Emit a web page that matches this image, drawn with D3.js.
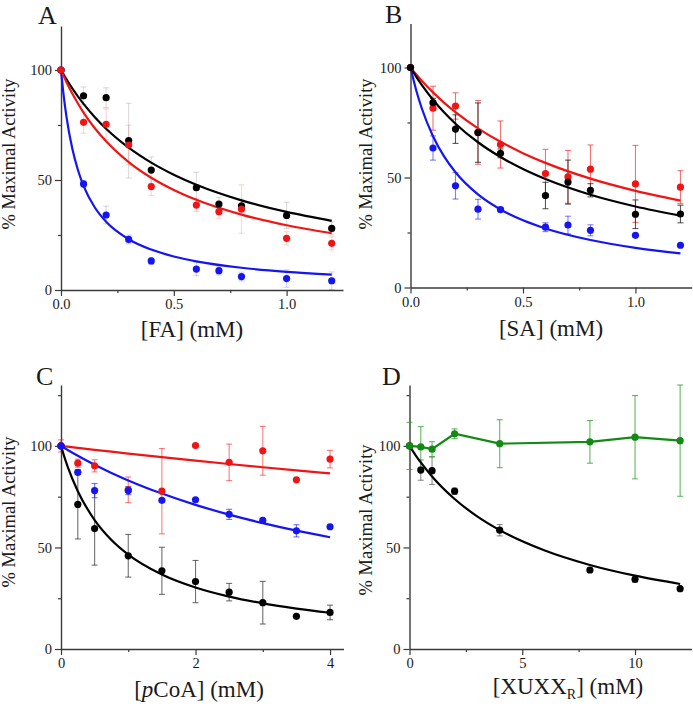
<!DOCTYPE html>
<html><head><meta charset="utf-8">
<script src="https://cdn.jsdelivr.net/npm/d3@7"></script>
<style>
body{margin:0;background:#fff}
svg{display:block}
svg text{font-family:"Liberation Serif","LiberationSerif","Tinos","Times New Roman","Nimbus Roman","DejaVu Serif",serif !important;fill:#1a1a1a}
</style>
</head><body>
<svg id="chart" width="693" height="708"></svg>
<script>
// ---------- Panel A : [FA] ----------
const aX        = [0, 0.1, 0.2, 0.3, 0.4, 0.6, 0.7, 0.8, 1.0, 1.2];
const aBlack    = [100, 88.3, 87.4, 67.9, 54.5, 46.5, 39.1, 38.3, 33.9, 28.0];
const aBlackErr = [0, 4, 4.5, 17, 6, 7, 3, 3, 6, 3];
const aRed      = [100, 76.2, 75.3, 65.9, 47.0, 38.6, 35.6, 36.8, 23.5, 21.2];
const aRedErr   = [0, 5, 7, 9, 4, 3, 3, 11, 3, 3];
const aBlue     = [100, 48.2, 34.1, 23.0, 13.2, 9.5, 8.8, 6.1, 5.2, 4.2];
const aBlueErr  = [0, 1.5, 4, 2, 1.5, 3, 2, 2, 4, 4];
const aFitX     = [0, 0.0125, 0.025, 0.05, 0.075, 0.1, 0.15, 0.2, 0.3, 0.4, 0.5, 0.6, 0.8, 1.0, 1.2];
const aFitBlack = [100, 97.8, 95.65, 91.67, 88.0, 84.62, 78.57, 73.33, 64.71, 57.89, 52.38, 47.83, 40.74, 35.48, 31.43];
const aFitRed   = [100, 97.1, 94.34, 89.29, 84.8, 80.66, 73.54, 67.59, 58.16, 51.04, 45.48, 41.0, 34.26, 29.43, 25.79];
const aFitBlue  = [100, 87.8, 78.26, 64.29, 54.55, 47.37, 37.5, 31.03, 23.08, 18.37, 15.25, 13.04, 10.11, 8.26, 6.98];

// ---------- Panel B : [SA] ----------
const bX        = [0, 0.1, 0.2, 0.3, 0.4, 0.6, 0.7, 0.8, 1.0, 1.2];
const bRed      = [100, 81.5, 82.5, 70.5, 65.0, 51.8, 50.3, 53.8, 47.1, 45.6];
const bRedErr   = [0, 10, 6, 14.5, 10.7, 11, 12, 11, 17.5, 7.5];
const bBlack    = [100, 84.0, 72.0, 70.4, 61.0, 41.8, 47.9, 44.2, 33.3, 33.4];
const bBlackErr = [0, 2, 6.5, 13.5, 2, 6, 10, 3, 6.5, 4];
const bBlue     = [100, 63.4, 46.2, 35.6, 35.4, 27.4, 28.4, 26.0, 23.7, 19.2];
const bBlueErr  = [0, 5.5, 6, 4.5, 1, 2, 4, 2.5, 0, 0];
const bFitX     = [0, 0.025, 0.05, 0.1, 0.15, 0.2, 0.3, 0.4, 0.5, 0.6, 0.8, 1.0, 1.2];
const bFitRed   = [100, 96.91, 94.0, 88.68, 83.94, 79.67, 72.32, 66.22, 61.06, 56.65, 49.49, 43.95, 39.52];
const bFitBlack = [100, 95.89, 92.1, 85.36, 79.54, 74.46, 66.02, 59.31, 53.83, 49.28, 42.15, 36.83, 32.7];
const bFitBlue  = [100, 89.8, 81.48, 68.75, 59.46, 52.38, 42.31, 35.48, 30.56, 26.83, 21.57, 18.03, 15.49];

// ---------- Panel C : [pCoA] ----------
const cX        = [0, 0.25, 0.5, 1.0, 1.5, 2.0, 2.5, 3.0, 3.5, 4.0];
const cRed      = [100, 91.5, 90.2, 78.4, 77.7, 100.2, 91.9, 97.6, 83.3, 93.5];
const cRedErr   = [3, 2, 3, 6.3, 21, 0, 9, 12, 0, 4.3];
const cBlue     = [100, 87.0, 78.0, 78.0, 73.2, 73.5, 66.3, 63.3, 58.2, 60.2];
const cBlueErr  = [0, 1, 3.5, 2, 0, 0, 2.5, 1, 3, 0];
const cBlack    = [100, 71.2, 59.3, 45.9, 38.5, 33.2, 28.0, 22.8, 16.1, 18.0];
const cBlackErr = [0, 17, 18, 10.5, 11.6, 10.4, 4.3, 10.5, 0, 3.6];
const cFitX     = [0, 0.05, 0.1, 0.25, 0.5, 0.75, 1, 1.5, 2, 2.5, 3, 3.5, 4];
const cFitRed   = [100, 99.8, 99.61, 99.03, 98.08, 97.15, 96.24, 94.46, 92.75, 91.1, 89.51, 87.97, 86.49];
const cFitBlue  = [100, 99.0, 98.0, 95.14, 90.72, 86.7, 83.02, 76.53, 70.97, 66.17, 61.98, 58.28, 55.0];
const cFitBlack = [100, 94.57, 89.69, 77.68, 63.5, 53.7, 46.52, 36.71, 30.3, 25.81, 22.48, 19.91, 17.86];

// ---------- Panel D : [XUXX_R] ----------
const dX        = [0, 0.5, 1, 2, 4, 8, 10, 12];
const dBlack    = [100, 88.1, 87.8, 77.7, 58.5, 38.9, 34.3, 29.7];
const dBlackErr = [0, 5, 6.8, 1.5, 2.8, 1, 1.5, 0];
const dGreen    = [100, 99.5, 98.4, 106.0, 101.1, 102.0, 104.3, 102.6];
const dGreenErr = [11.6, 10, 3.7, 2.4, 11.8, 10.5, 20.5, 27.4];
const dFitX     = [0, 0.25, 0.5, 1, 2, 3, 4, 6, 8, 10, 12];
const dFitBlack = [100, 95.77, 91.87, 84.96, 73.86, 65.32, 58.55, 48.5, 41.39, 36.1, 32.01];

// tick values
const abXMajor = [0, 0.5, 1.0], abXMinor = [0.25, 0.75];
const abYMajor = [0, 50, 100],  abYMinor = [25, 75];
const cXMajor = [0, 2, 4], cXMinor = [1, 3];
const dXMajor = [0, 5, 10], dXMinor = [2.5, 7.5];
const cdYMajor = [0, 50, 100], cdYMinor = [25, 75, 125];

const RED = "#f01515", BLUE = "#1515f0", BLACK = "#000000", GREEN = "#138a13";
const FONT = "'Liberation Serif', Tinos, 'Times New Roman', 'DejaVu Serif', serif";

const svg = d3.select("#chart").attr("font-family", FONT);

function zip(xs, ys, es) { return xs.map((x, i) => ({x, y: ys[i], e: es ? es[i] : 0})); }

function panel(cfg) {
  const g = svg.append("g");
  const x = d3.scaleLinear().domain(cfg.xDomain).range([cfg.px0, cfg.px1]);
  const y = d3.scaleLinear().domain(cfg.yDomain).range([cfg.py1, cfg.py0]);

  const axCol = "#3a3a3a";
  g.append("g").attr("transform", `translate(${cfg.px0},0)`)
    .call(d3.axisLeft(y).tickValues(cfg.yMajor).tickSize(6).tickSizeOuter(0).tickPadding(3).tickFormat(d3.format("d")));
  g.append("g").attr("transform", `translate(${cfg.px0},0)`)
    .call(d3.axisLeft(y).tickValues(cfg.yMinor).tickSize(3).tickSizeOuter(0).tickFormat(""))
    .select(".domain").remove();
  g.append("g").attr("transform", `translate(0,${cfg.py1})`)
    .call(d3.axisBottom(x).tickValues(cfg.xMajor).tickSize(6).tickSizeOuter(0).tickPadding(3).tickFormat(cfg.xFmt));
  g.append("g").attr("transform", `translate(0,${cfg.py1})`)
    .call(d3.axisBottom(x).tickValues(cfg.xMinor).tickSize(3).tickSizeOuter(0).tickFormat(""))
    .select(".domain").remove();
  g.selectAll("g").attr("font-family", FONT);
  g.selectAll(".domain").attr("stroke", axCol).attr("stroke-width", 1.4);
  g.selectAll(".tick line").attr("stroke", axCol).attr("stroke-width", 1.2);
  g.selectAll(".tick text").attr("font-family", FONT).attr("font-size", 14.5).attr("fill", "#1a1a1a");

  g.append("text").attr("x", cfg.letterX).attr("y", cfg.letterY).attr("font-family", FONT)
    .attr("font-size", 26).text(cfg.letter);

  g.append("text").attr("transform", `translate(${cfg.ylabX},${cfg.ylabY}) rotate(-90)`)
    .attr("font-family", FONT).attr("text-anchor", "middle").attr("font-size", 18.5).text("% Maximal Activity");

  const xl = g.append("text").attr("x", cfg.xlabX).attr("y", cfg.xlabY).attr("font-family", FONT)
    .attr("text-anchor", "middle").attr("font-size", 23);
  cfg.xlab(xl);

  cfg.series.forEach(s => {
    const eg = g.append("g").attr("stroke", s.errColor || s.color).attr("stroke-opacity", s.errOpacity)
      .attr("stroke-width", 1.1).attr("fill", "none");
    s.pts.filter(p => p.e > 0).forEach(p => {
      const cx = x(p.x), t = y(p.y + p.e), b = y(p.y - p.e);
      eg.append("line").attr("x1", cx).attr("x2", cx).attr("y1", t).attr("y2", b);
      eg.append("line").attr("x1", cx - 3).attr("x2", cx + 3).attr("y1", t).attr("y2", t);
      eg.append("line").attr("x1", cx - 3).attr("x2", cx + 3).attr("y1", b).attr("y2", b);
    });
  });

  cfg.series.forEach(s => {
    if (!s.line) return;
    const gen = d3.line().x(d => x(d.x)).y(d => y(d.y))
      .curve(s.lineType === "linear" ? d3.curveLinear : d3.curveMonotoneX);
    g.append("path").datum(s.line).attr("d", gen).attr("fill", "none")
      .attr("stroke", s.color).attr("stroke-width", 2.2);
  });

  cfg.series.forEach(s => {
    g.append("g").selectAll("circle").data(s.pts).join("circle")
      .attr("cx", d => x(d.x)).attr("cy", d => y(d.y)).attr("r", 3.6).attr("fill", s.color);
  });
}

panel({
  letter: "A", letterX: 38, letterY: 24,
  px0: 61, px1: 343, py0: 26, py1: 290,
  xDomain: [0, 1.25], yDomain: [0, 120],
  xMajor: abXMajor, xMinor: abXMinor, yMajor: abYMajor, yMinor: abYMinor,
  xFmt: d3.format(".1f"),
  ylabX: 15, ylabY: 154, xlabX: 192, xlabY: 337,
  xlab: t => t.text("[FA] (mM)"),
  series: [
    {color: BLACK, errColor: "#888", errOpacity: 0.3, pts: zip(aX, aBlack, aBlackErr), line: zip(aFitX, aFitBlack)},
    {color: BLUE, errOpacity: 0.18, pts: zip(aX, aBlue, aBlueErr), line: zip(aFitX, aFitBlue)},
    {color: RED, errOpacity: 0.18, pts: zip(aX, aRed, aRedErr), line: zip(aFitX, aFitRed)}
  ]
});

panel({
  letter: "B", letterX: 385, letterY: 23,
  px0: 410.5, px1: 691.7, py0: 23.5, py1: 287.5,
  xDomain: [0, 1.25], yDomain: [0, 120],
  xMajor: abXMajor, xMinor: abXMinor, yMajor: abYMajor, yMinor: abYMinor,
  xFmt: d3.format(".1f"),
  ylabX: 372, ylabY: 154, xlabX: 551, xlabY: 336,
  xlab: t => t.text("[SA] (mM)"),
  series: [
    {color: BLUE, errOpacity: 0.55, pts: zip(bX, bBlue, bBlueErr), line: zip(bFitX, bFitBlue)},
    {color: RED, errOpacity: 0.6, pts: zip(bX, bRed, bRedErr), line: zip(bFitX, bFitRed)},
    {color: BLACK, errColor: "#222", errOpacity: 0.75, pts: zip(bX, bBlack, bBlackErr), line: zip(bFitX, bFitBlack)}
  ]
});

panel({
  letter: "C", letterX: 36, letterY: 385,
  px0: 61, px1: 343.5, py0: 385, py1: 649,
  xDomain: [0, 4.2], yDomain: [0, 130],
  xMajor: cXMajor, xMinor: cXMinor, yMajor: cdYMajor, yMinor: cdYMinor,
  xFmt: d3.format("d"),
  ylabX: 15, ylabY: 512, xlabX: 199, xlabY: 697,
  xlab: t => { t.append("tspan").text("["); t.append("tspan").attr("font-style", "italic").text("p"); t.append("tspan").text("CoA] (mM)"); },
  series: [
    {color: BLACK, errColor: "#333", errOpacity: 0.7, pts: zip(cX, cBlack, cBlackErr), line: zip(cFitX, cFitBlack)},
    {color: RED, errOpacity: 0.55, pts: zip(cX, cRed, cRedErr), line: zip(cFitX, cFitRed)},
    {color: BLUE, errOpacity: 0.6, pts: zip(cX, cBlue, cBlueErr), line: zip(cFitX, cFitBlue)}
  ]
});

panel({
  letter: "D", letterX: 382, letterY: 385,
  px0: 409.5, px1: 691.4, py0: 385, py1: 649,
  xDomain: [0, 12.5], yDomain: [0, 130],
  xMajor: dXMajor, xMinor: dXMinor, yMajor: cdYMajor, yMinor: cdYMinor,
  xFmt: d3.format("d"),
  ylabX: 372, ylabY: 520, xlabX: 568, xlabY: 694,
  xlab: t => { t.append("tspan").text("[XUXX"); t.append("tspan").attr("font-size", 14).attr("dy", 5).text("R"); t.append("tspan").attr("dy", -5).text("] (mM)"); },
  series: [
    {color: BLACK, errColor: "#444", errOpacity: 0.6, pts: zip(dX, dBlack, dBlackErr), line: zip(dFitX, dFitBlack)},
    {color: GREEN, errColor: "#2fa02f", errOpacity: 0.75, pts: zip(dX, dGreen, dGreenErr), line: zip(dX, dGreen), lineType: "linear"}
  ]
});
</script>
</body></html>
